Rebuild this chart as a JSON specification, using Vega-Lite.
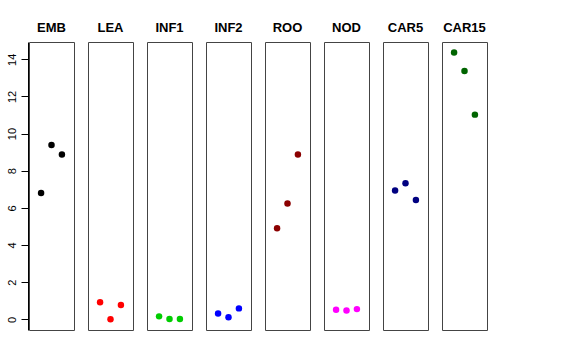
{
  "$schema": "https://vega.github.io/schema/vega-lite/v6.json",
  "padding": {"left": 5, "top": 22, "right": 5, "bottom": 5},
  "background": "white",
  "data": {
    "values": [
      {"tissue": "EMB", "rep": 1, "value": 6.80},
      {"tissue": "EMB", "rep": 2, "value": 9.39},
      {"tissue": "EMB", "rep": 3, "value": 8.87},
      {"tissue": "LEA", "rep": 1, "value": 0.92},
      {"tissue": "LEA", "rep": 2, "value": 0.0},
      {"tissue": "LEA", "rep": 3, "value": 0.77},
      {"tissue": "INF1", "rep": 1, "value": 0.16},
      {"tissue": "INF1", "rep": 2, "value": 0.02},
      {"tissue": "INF1", "rep": 3, "value": 0.02},
      {"tissue": "INF2", "rep": 1, "value": 0.32},
      {"tissue": "INF2", "rep": 2, "value": 0.11},
      {"tissue": "INF2", "rep": 3, "value": 0.59},
      {"tissue": "ROO", "rep": 1, "value": 4.90},
      {"tissue": "ROO", "rep": 2, "value": 6.23},
      {"tissue": "ROO", "rep": 3, "value": 8.87},
      {"tissue": "NOD", "rep": 1, "value": 0.52},
      {"tissue": "NOD", "rep": 2, "value": 0.48},
      {"tissue": "NOD", "rep": 3, "value": 0.55},
      {"tissue": "CAR5", "rep": 1, "value": 6.93},
      {"tissue": "CAR5", "rep": 2, "value": 7.32},
      {"tissue": "CAR5", "rep": 3, "value": 6.42},
      {"tissue": "CAR15", "rep": 1, "value": 14.36},
      {"tissue": "CAR15", "rep": 2, "value": 13.37},
      {"tissue": "CAR15", "rep": 3, "value": 11.02}
    ]
  },
  "facet": {
    "column": {
      "field": "tissue",
      "type": "nominal",
      "sort": ["EMB", "LEA", "INF1", "INF2", "ROO", "NOD", "CAR5", "CAR15"],
      "header": {
        "title": null,
        "labelFont": "Liberation Sans",
        "labelFontSize": 13,
        "labelFontWeight": "bold",
        "labelColor": "black",
        "labelPadding": 6
      }
    }
  },
  "spacing": 12,
  "spec": {
    "width": 45,
    "height": 288,
    "mark": {"type": "point", "filled": true, "shape": "circle", "size": 42, "opacity": 1},
    "encoding": {
      "x": {
        "field": "rep",
        "type": "quantitative",
        "scale": {"domain": [-0.16, 4.16], "nice": false, "zero": false},
        "axis": null
      },
      "y": {
        "field": "value",
        "type": "quantitative",
        "scale": {"domain": [-0.574, 14.93], "nice": false, "zero": false},
        "axis": {
          "title": null,
          "values": [0, 2, 4, 6, 8, 10, 12, 14],
          "grid": false,
          "domain": true,
          "domainColor": "black",
          "tickColor": "black",
          "tickSize": 7,
          "labelAngle": -90,
          "labelAlign": "center",
          "labelBaseline": "bottom",
          "labelPadding": 4,
          "labelFont": "Liberation Sans",
          "labelFontSize": 11,
          "labelColor": "black"
        }
      },
      "color": {
        "field": "tissue",
        "type": "nominal",
        "scale": {
          "domain": ["EMB", "LEA", "INF1", "INF2", "ROO", "NOD", "CAR5", "CAR15"],
          "range": ["#000000", "#FF0000", "#00CD00", "#0000FF", "#8B0000", "#FF00FF", "#000080", "#006400"]
        },
        "legend": null
      }
    }
  },
  "config": {
    "view": {"stroke": "#444", "strokeWidth": 1}
  }
}
